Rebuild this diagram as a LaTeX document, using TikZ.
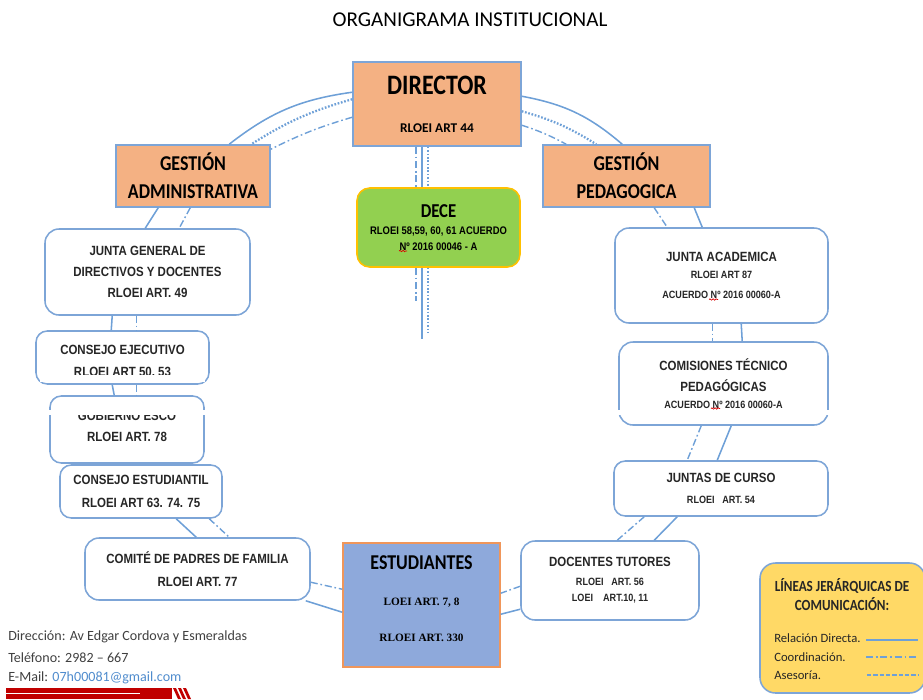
\documentclass[tikz,border=0pt]{standalone}
\usepackage{fontspec}
\setmainfont{Carlito}
\newfontfamily\hdfont[FakeStretch=0.85]{Carlito}
\newfontfamily\bxfont[FakeStretch=0.86]{Liberation Sans}
\newfontfamily\sefont{Liberation Serif}
\usetikzlibrary{positioning,decorations.pathmorphing}
\definecolor{salmon}{RGB}{244,177,131}
\definecolor{edgeblue}{RGB}{125,165,215}
\definecolor{lineblue}{RGB}{110,160,215}
\definecolor{decegreen}{RGB}{146,208,80}
\definecolor{deceedge}{RGB}{255,192,0}
\definecolor{studblue}{RGB}{142,169,219}
\definecolor{studedge}{RGB}{240,150,90}
\definecolor{keyyellow}{RGB}{255,217,102}
\definecolor{txtgray}{RGB}{38,38,38}
\definecolor{footgray}{RGB}{64,64,64}
\definecolor{mailblue}{RGB}{80,140,205}
\definecolor{bandred}{RGB}{192,0,0}
\newcommand{\pxu}{0.025cm}
\newcommand{\smtxt}{\fontsize{7.5}{9}\selectfont}

\begin{document}
\begin{tikzpicture}[x=0.025cm, y=-0.025cm, %one unit is one pixel, y runs down
headbox/.style ={rectangle, draw=edgeblue, line width=1.1pt, fill=salmon, align=center, inner sep=0pt, font=\hdfont\bfseries\fontsize{15}{20}\selectfont},
rulebox/.style ={rectangle, rounded corners=8pt, draw=edgeblue, line width=1.1pt, fill=white, align=center, inner sep=0pt, text=txtgray, font=\bxfont\bfseries\fontsize{9.5}{15}\selectfont},
boxtext/.style ={inner sep=0pt, text=txtgray, font=\bxfont\bfseries\fontsize{9.5}{15}\selectfont},
boxsize/.style 2 args={minimum width=#1*\pxu, minimum height=#2*\pxu},
rel/.style ={lineblue, line width=1.1pt},
coord/.style ={lineblue, line width=1pt, dash pattern=on 5pt off 2pt on 1.2pt off 2pt},
ases/.style ={lineblue, line width=1.6pt, dash pattern=on 1.2pt off 1.2pt},
squiggle/.style ={red!85!black, line width=0.5pt, decorate, decoration={snake, amplitude=0.5pt, segment length=2.2pt}},
foot/.style ={anchor=west, inner sep=0pt, text=footgray, font=\fontsize{10}{12}\selectfont}
]
\clip (0,0) rectangle (923,699);
%title
\path (470,20) node[font=\fontsize{15}{17}\selectfont] (title) {ORGANIGRAMA INSTITUCIONAL};
%director and gestion boxes
\path (437,104) node[headbox, boxsize={168}{84}] (director) {{\fontsize{20}{22}\selectfont DIRECTOR}\\[7pt]{\rmfamily\fontsize{9.5}{11}\selectfont RLOEI ART 44}}
(193,176) node[headbox, boxsize={154}{62}] (ga) {GESTIÓN\\ADMINISTRATIVA}
(626.5,176) node[headbox, boxsize={167}{62}] (gp) {GESTIÓN\\PEDAGOGICA};
%dece
\draw (438.5,227.5) node[rulebox, fill=decegreen, draw=deceedge, rounded corners=9pt, text=black, boxsize={163}{79}, font=\bxfont\bfseries\fontsize{7.8}{11.5}\selectfont] (dece) {{\hdfont\fontsize{14}{15}\selectfont DECE}\\[0.5pt]RLOEI 58,59, 60, 61 ACUERDO\\Nº 2016 00046 - A};
%left column
\draw (147.5,272) node[rulebox, rounded corners=10pt, boxsize={205}{86}] (jg) {JUNTA GENERAL DE\\DIRECTIVOS Y DOCENTES\\RLOEI ART. 49};
\draw (122.5,357.5) node[rulebox, boxsize={173}{53}] (cej) {};
\path (122.5,350) node[boxtext] (cejtop) {CONSEJO EJECUTIVO}
(122.5,373) node[boxtext] (cejbot) {RLOEI ART 50, 53};
\draw (127,429.5) node[rulebox, boxsize={154}{67}] (gob) {};
\path (127,416) node[boxtext] (gobtop) {GOBIERNO ESCO}
(127,437) node[boxtext] (gobbot) {RLOEI ART. 78};
\draw (141,491.5) node[rulebox, boxsize={162}{53}] (cest) {CONSEJO ESTUDIANTIL\\[1pt]RLOEI ART 63. 74. 75};
\draw (197.5,569) node[rulebox, rounded corners=10pt, boxsize={225}{62}] (comite) {COMITÉ DE PADRES DE FAMILIA\\[1.5pt]RLOEI ART. 77};
%estudiantes
\draw (421.5,605) node[headbox, fill=studblue, draw=studedge, boxsize={157}{124}] (est) {};
\path (421.5,563) node[font=\hdfont\bfseries\fontsize{15}{17}\selectfont] (esttop) {ESTUDIANTES}
(421.5,603) node[font=\sefont\bfseries\fontsize{8}{10}\selectfont] (estmid) {LOEI ART. 7, 8}
(421.5,638) node[font=\sefont\bfseries\fontsize{8}{10}\selectfont] (estbot) {RLOEI ART. 330};
%right column
\draw (721.5,275.5) node[rulebox, rounded corners=10pt, boxsize={213}{95}, font=\bxfont\bfseries\fontsize{9.5}{12}\selectfont] (ja) {JUNTA ACADEMICA\\{\smtxt RLOEI ART 87}\\[2.5pt]{\smtxt ACUERDO Nº 2016 00060-A}};
\draw (723.5,383.5) node[rulebox, rounded corners=10pt, boxsize={209}{83}] (ctp) {COMISIONES TÉCNICO\\PEDAGÓGICAS\\[-2.5pt]{\smtxt ACUERDO Nº 2016 00060-A}};
\draw (721,488.5) node[rulebox, boxsize={214}{55}] (jdc) {JUNTAS DE CURSO\\[-0.5pt]{\smtxt RLOEI\ \ \ ART. 54}};
\draw (610,580.5) node[rulebox, rounded corners=10pt, boxsize={178}{79}, font=\bxfont\bfseries\fontsize{9.5}{12}\selectfont] (dt) {DOCENTES TUTORES\\[1pt]{\smtxt RLOEI\ \ \ ART. 56}\\{\smtxt LOEI\ \ \ \ ART.10, 11}};
%spelling marks under No
\draw[squiggle] (399,251) -- (407,251);
\draw[squiggle] (709,299.5) -- (718,299.5);
\draw[squiggle] (711,408.5) -- (720,408.5);
%lines director to gestion
\draw[rel] ([shift={(0,31)}]director.north west) to[bend right=15] ([shift={(114,0)}]ga.north west);
\draw[ases] ([shift={(0,38)}]director.north west) to[bend right=8] ([shift={(136,0)}]ga.north west);
\draw[coord] ([shift={(0,56)}]director.north west) to[bend right=5] ([shift={(0,5)}]ga.north east);
\draw[rel] ([shift={(0,35)}]director.north east) to[bend left=15] ([shift={(80,0)}]gp.north west);
\draw[ases] ([shift={(0,50)}]director.north east) to[bend left=8] ([shift={(54,0)}]gp.north west);
\draw[coord] ([shift={(0,64)}]director.north east) to[bend left=5] ([shift={(24,0)}]gp.north west);
%director to dece and below
\draw[rel] ([shift={(-15,0)}]director.south) -- ([shift={(-16.5,0)}]dece.north);
\draw[ases] ([shift={(-9,0)}]director.south) -- ([shift={(-10.5,0)}]dece.north);
\draw[coord] ([shift={(-21,0)}]director.south) -- ([shift={(-22.5,0)}]dece.north);
\draw[rel] ([shift={(-16.5,0)}]dece.south) -- ++(0,71) coordinate (relend);
\draw[ases] ([shift={(-10.5,0)}]dece.south) -- ++(0,65) coordinate (asesend);
\draw[coord] ([shift={(-22.5,0)}]dece.south) -- ++(0,33) coordinate (coordend);
%left column links
\draw[rel] ([shift={(43,0)}]ga.south west) -- ([shift={(101,0)}]jg.north west);
\draw[coord] ([shift={(75,0)}]ga.south west) -- ([shift={(135,0)}]jg.north west);
\draw[rel] ([shift={(68,0)}]jg.south west) -- ([shift={(76,0)}]cej.north west);
\draw[coord] ([shift={(92,0)}]jg.south west) -- ([shift={(101,0)}]cej.north west);
\draw[rel] ([shift={(77,0)}]cej.south west) -- ([shift={(65,0)}]gob.north west);
\draw[coord] ([shift={(101,0)}]cej.south west) -- ([shift={(87,0)}]gob.north west);
\draw[rel] ([shift={(117,0)}]cest.south west) -- ([shift={(112,0)}]comite.north west);
\draw[coord] ([shift={(150,0)}]cest.south west) -- ([shift={(145,0)}]comite.north west);
\draw[coord] ([shift={(0,45)}]comite.north east) -- ([shift={(0,47)}]est.north west);
\draw[rel] ([shift={(-5,0)}]comite.south east) -- ([shift={(0,70)}]est.north west);
%right column links
\draw[rel] ([shift={(152,0)}]gp.south west) -- ([shift={(88,0)}]ja.north west);
\draw[coord] ([shift={(112,0)}]gp.south west) -- ([shift={(53,0)}]ja.north west);
\draw[coord] ([shift={(98,0)}]ja.south west) -- ([shift={(94,0)}]ctp.north west);
\draw[rel] ([shift={(127,0)}]ja.south west) -- ([shift={(124,0)}]ctp.north west);
\draw[coord] ([shift={(83,0)}]ctp.south west) -- ([shift={(74,0)}]jdc.north west);
\draw[rel] ([shift={(113,0)}]ctp.south west) -- ([shift={(104,0)}]jdc.north west);
\draw[coord] ([shift={(31,0)}]jdc.south west) -- ([shift={(97,0)}]dt.north west);
\draw[rel] ([shift={(64,0)}]jdc.south west) -- ([shift={(134,0)}]dt.north west);
\draw[coord] ([shift={(0,46)}]dt.north west) -- ([shift={(0,51)}]est.north east);
\draw[rel] ([shift={(0,69)}]dt.north west) -- ([shift={(0,72)}]est.north east);
%cut strips of the scan
\fill[white] (0,410) rectangle (923,414.5);
\fill[white] (40,375) rectangle (205,381.5);
%key
\draw (842.5,628) node[rulebox, fill=keyyellow, rounded corners=11pt, boxsize={165}{130}] (key) {};
\path (842,594.5) node[align=center, text=txtgray, font=\hdfont\bfseries\fontsize{11}{13.5}\selectfont] (keytitle) {LÍNEAS JERÁRQUICAS DE\\COMUNICACIÓN:};
\path (774,638) node[foot, text=txtgray, font=\fontsize{9}{11}\selectfont] (krel) {Relación Directa.}
(774,657) node[foot, text=txtgray, font=\fontsize{9}{11}\selectfont] (kcoord) {Coordinación.}
(774,675) node[foot, text=txtgray, font=\fontsize{9}{11}\selectfont] (kases) {Asesoría.};
\draw[rel] (866,640) -- (918,640);
\draw[coord] (866,657) -- (918,657);
\draw[lineblue, line width=1pt, dash pattern=on 3pt off 1.5pt] (867,675) -- (918,675);
%footer
\path (8,637) node[foot] (addr) {Dirección: Av Edgar Cordova y Esmeraldas}
(8,658) node[foot] (phone) {Teléfono: 2982 – 667}
(8,678) node[foot] (mail) {E-Mail: \textcolor{mailblue}{07h00081@gmail.com}};
%red band
\fill[bandred] (6,688) rectangle (172,699);
\draw[white, line width=0.8pt] (6,693.5) -- (140,693.5);
\foreach \s in {0,5,10}
  \fill[bandred] (173+\s,688) -- (176+\s,688) -- (181+\s,699) -- (178+\s,699) -- cycle;
\end{tikzpicture}
\end{document}
